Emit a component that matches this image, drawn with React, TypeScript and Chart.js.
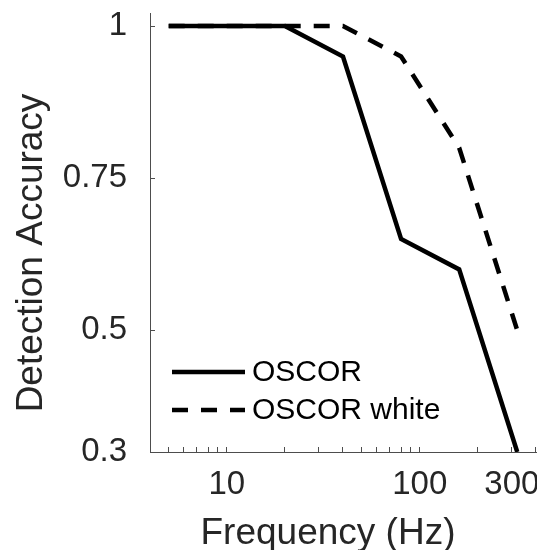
import React, { useEffect, useRef } from "react";
import { Chart, registerables } from "chart.js";

Chart.register(...registerables);

// ---- data ----
const frequencies = [5, 10, 20, 40, 80, 160, 320];
const oscorAccuracy = [1, 1, 1, 0.95, 0.65, 0.6, 0.3];
const oscorWhiteAccuracy = [1, 1, 1, 1, 0.95, 0.8, 0.5];
const seriesLabels = ["OSCOR", "OSCOR white"];
const xTickValues = [5, 6, 7, 8, 9, 10, 20, 30, 40, 50, 60, 70, 80, 90, 100, 200, 300, 400];
const xLabeledTicks = [10, 100, 300];
const yTickValues = [0.3, 0.5, 0.75, 1];
const yTickLabels = ["0.3", "0.5", "0.75", "1"];
const xTitle = "Frequency (Hz)";
const yTitle = "Detection Accuracy";

const FONT = "'Liberation Sans', Arial, Helvetica, sans-serif";
const AXIS_COLOR = "#4d4d4d";
const TEXT_COLOR = "#262626";

const titlesPlugin = {
  id: "matlabTitles",
  afterDraw(chart: any) {
    const { ctx, chartArea } = chart;
    ctx.save();
    ctx.fillStyle = TEXT_COLOR;
    ctx.font = `37px ${FONT}`;
    ctx.textAlign = "center";
    ctx.textBaseline = "alphabetic";
    ctx.fillText(xTitle, chartArea.left + 178, chartArea.bottom + 92);
    ctx.translate(41.5, chartArea.top + 240);
    ctx.rotate(-Math.PI / 2);
    ctx.fillText(yTitle, 0, 0);
    ctx.restore();
  },
};

const legendPlugin = {
  id: "insideLegend",
  afterDraw(chart: any) {
    const { ctx, chartArea } = chart;
    const x0 = chartArea.left + 22;
    const x1 = chartArea.left + 95;
    const rows = [chartArea.bottom - 80, chartArea.bottom - 42];
    ctx.save();
    chart.data.datasets.forEach((ds: any, i: number) => {
      const y = rows[i];
      ctx.strokeStyle = ds.borderColor;
      ctx.lineWidth = ds.borderWidth;
      ctx.setLineDash(ds.borderDash || []);
      ctx.lineCap = "butt";
      ctx.beginPath();
      ctx.moveTo(x0, y);
      ctx.lineTo(x1, y);
      ctx.stroke();
      ctx.setLineDash([]);
      ctx.fillStyle = "#000";
      ctx.font = `30px ${FONT}`;
      ctx.textAlign = "left";
      ctx.textBaseline = "middle";
      ctx.fillText(ds.label, x1 + 7, y + 1);
    });
    ctx.restore();
  },
};

export default function App() {
  const canvasRef = useRef<HTMLCanvasElement | null>(null);

  useEffect(() => {
    if (!canvasRef.current) return;
    const chart = new Chart(canvasRef.current, {
      type: "line",
      data: {
        datasets: [
          {
            label: seriesLabels[0],
            data: frequencies.map((f, i) => ({ x: f, y: oscorAccuracy[i] })),
            borderColor: "#000",
            borderWidth: 4.5,
            pointRadius: 0,
            tension: 0,
            fill: false,
          },
          {
            label: seriesLabels[1],
            data: frequencies.map((f, i) => ({ x: f, y: oscorWhiteAccuracy[i] })),
            borderColor: "#000",
            borderWidth: 4.5,
            borderDash: [16, 13],
            pointRadius: 0,
            tension: 0,
            fill: false,
          },
        ],
      },
      plugins: [titlesPlugin, legendPlugin],
      options: {
        animation: false,
        responsive: false,
        devicePixelRatio: 1,
        layout: { padding: { top: 13, left: 0, right: 0, bottom: 0 } },
        plugins: {
          legend: { display: false },
          tooltip: { enabled: false },
        },
        scales: {
          x: {
            type: "logarithmic",
            position: "bottom",
            min: 4,
            max: 405,
            afterBuildTicks: (s: any) => {
              s.ticks = xTickValues.map((v) => ({ value: v }));
            },
            afterFit: (s: any) => {
              s.height = 98;
              s.paddingLeft = 0;
              s.paddingRight = 0;
            },
            ticks: {
              autoSkip: false,
              maxRotation: 0,
              minRotation: 0,
              padding: 18,
              color: TEXT_COLOR,
              font: { family: FONT, size: 33, lineHeight: 1.2 },
              callback: (v: any) => (xLabeledTicks.includes(Number(v)) ? String(v) : ""),
            },
            grid: {
              drawOnChartArea: false,
              drawTicks: true,
              tickLength: -5,
              color: AXIS_COLOR,
              lineWidth: 1,
            },
            border: { display: true, color: AXIS_COLOR, width: 1 },
          },
          y: {
            type: "linear",
            position: "left",
            min: 0.3,
            max: 1.0214,
            afterBuildTicks: (s: any) => {
              s.ticks = yTickValues.map((v) => ({ value: v }));
            },
            afterFit: (s: any) => {
              s.width = 150;
              s.paddingTop = 0;
              s.paddingBottom = 0;
            },
            ticks: {
              padding: 28,
              color: TEXT_COLOR,
              font: { family: FONT, size: 33, lineHeight: 1.2 },
              callback: (v: any) => {
                const i = yTickValues.indexOf(Number(v));
                return i >= 0 ? yTickLabels[i] : "";
              },
            },
            grid: {
              drawOnChartArea: false,
              drawTicks: true,
              tickLength: -5,
              color: AXIS_COLOR,
              lineWidth: 1,
            },
            border: { display: true, color: AXIS_COLOR, width: 1 },
          },
        },
      },
    } as any);
    return () => chart.destroy();
  }, []);

  return (
    <div style={{ position: "absolute", left: 0, top: 0, width: 537, height: 550, background: "#fff" }}>
      <canvas ref={canvasRef} width={537} height={550} style={{ display: "block" }} />
    </div>
  );
}
